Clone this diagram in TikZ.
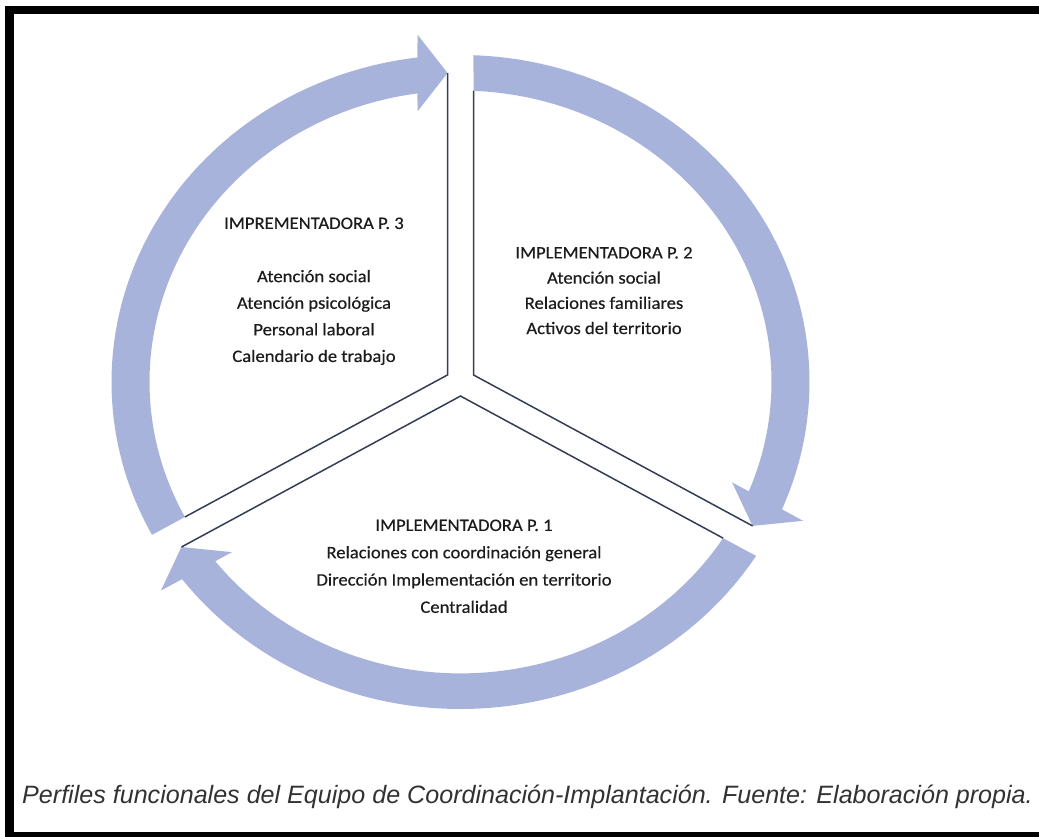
\documentclass[tikz,border=0pt]{standalone}
\usepackage{fontspec}
\setmainfont{Carlito}
\newfontfamily\bodyfont[FakeBold=0.45]{Carlito}
\newfontfamily\capfont{Liberation Sans}
\definecolor{ringblue}{RGB}{168,179,219}
\definecolor{linenavy}{RGB}{52,60,86}
\definecolor{textgray}{RGB}{28,28,28}
\definecolor{capgray}{RGB}{50,50,50}
\begin{document}
\begin{tikzpicture}[x=1pt,y=1pt,
  ringfill/.style={fill=ringblue},
  divider/.style={draw=linenavy, line width=1.5pt, line join=miter},
  blocktext/.style={align=center, inner sep=0pt, anchor=north, text=textgray, xscale=1.065},
]
\useasboundingbox (0,0) rectangle (1039,837);

% black frame (top, left and bottom bands)
\fill[black] (5,0) rectangle (14,831);
\fill[black] (5,823) rectangle (1039,831);
\fill[black] (5,0) rectangle (1039,5);

% three curved arrows of the cycle, one per sector
\begin{scope}[shift={(460.5,455)}, yscale=0.937]
  \foreach \r/\k in {0/3,-120/2,-240/1}{
    \begin{scope}[rotate=\r]
      \fill[ringfill] (207.87:349) arc[start angle=207.87, end angle=97.08, radius=349]
        -- (-43,370.74) -- (-13,329.74) -- (-43,288.74) -- (97.95:311)
        arc[start angle=97.95, end angle=207.60, radius=311] -- cycle;
      \coordinate (tip\k) at (-13,329.74);
      \coordinate (junc\k) at (-13,7.505);
      \coordinate (tail\k) at (207.60:311);
    \end{scope}
  }
\end{scope}

% sector dividers
\foreach \k in {1,2,3}
  \draw[divider] (tip\k) -- (junc\k) -- (tail\k);

% sector texts
\node[blocktext, font=\bodyfont\fontsize{17.5}{26.6}\selectfont] (p3) at (314,619.6)
  {IMPREMENTADORA P. 3\\[26.6pt]
   Atención social\\
   Atención psicológica\\
   Personal laboral\\
   Calendario de trabajo};
\node[blocktext, font=\bodyfont\fontsize{17.5}{25.2}\selectfont] (p2) at (604,590.1)
  {IMPLEMENTADORA P. 2\\
   Atención social\\
   Relaciones familiares\\
   Activos del territorio};
\node[blocktext, font=\bodyfont\fontsize{17.5}{27.3}\selectfont] (p1) at (464,317.6)
  {IMPLEMENTADORA P. 1\\
   Relaciones con coordinación general\\
   Dirección Implementación en territorio\\
   Centralidad};

% caption
\node[anchor=west, inner sep=0pt, text=capgray,
      font=\capfont\itshape\fontsize{25.1}{29}\selectfont] (caption) at (22,40)
  {Perfiles funcionales del Equipo de Coordinación-Implantación. Fuente: Elaboración propia.};
\end{tikzpicture}
\end{document}
